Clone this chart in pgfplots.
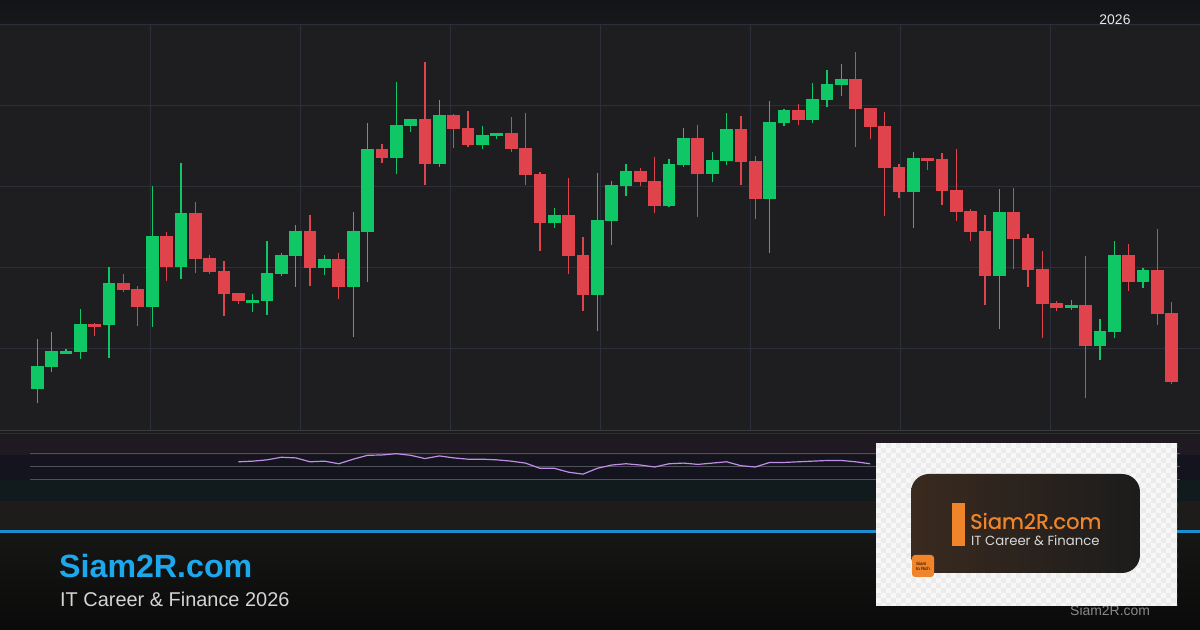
\documentclass[border=0pt]{standalone}
\usepackage{pgfplots}
\pgfplotsset{compat=1.18}
\usepackage{pgfplotstable}
\usepackage{fontspec}
\setmainfont{Liberation Sans}
\newfontfamily\logofont{Poppins}
\newfontfamily\logofontb{Poppins}[FakeBold=0.6]

\definecolor{cgreen}{HTML}{10C765}
\definecolor{cred}{HTML}{E0434C}
\definecolor{chartbg}{HTML}{1E1E20}
\definecolor{topbg}{HTML}{17181B}
\definecolor{topbgd}{HTML}{131417}
\definecolor{gridc}{HTML}{2A2F3A}
\definecolor{crsi}{HTML}{C28DE6}
\definecolor{cblue}{HTML}{1B8ED0}
\definecolor{ctitle}{HTML}{1CA8EC}
\definecolor{corange}{HTML}{F0842A}
\definecolor{pA}{HTML}{1B1B1E}
\definecolor{pB}{HTML}{3A3C42}
\definecolor{pC}{HTML}{2C2E33}
\definecolor{pD}{HTML}{1F1A21}
\definecolor{pE}{HTML}{13141D}
\definecolor{pF}{HTML}{111A1C}
\definecolor{pG}{HTML}{1D1C1A}
\definecolor{pLine}{HTML}{4E5159}
\definecolor{botT}{HTML}{161615}
\definecolor{botB}{HTML}{0A0A0A}
\definecolor{tYear}{HTML}{E8E8E8}
\definecolor{tSub}{HTML}{D4D4D4}
\definecolor{tGray}{HTML}{8A8A8A}
\definecolor{chkA}{HTML}{F7F7F7}
\definecolor{chkB}{HTML}{EBEBEB}
\definecolor{cardL}{HTML}{3A2A1F}
\definecolor{cardR}{HTML}{1C1C1C}
\definecolor{cardT}{HTML}{D8D8D8}

% up candles: index, open, high, low, close (price units)
\pgfplotstableread{
i open high low close
0 41 91 27 64
1 63 98 58 79
2 76 81 76 79
3 78 121 71 106
5 105 163 72 147
8 123 244 103 194
10 163 267 151 217
15 127 136 118 130
16 129 189 115 157
17 156 177 154 175
18 174 205 143 199
20 162 175 155 171
22 143 218 93 199
23 198 307 148 281
25 272 348 256 305
26 304 311 298 311
28 266 330 263 315
31 285 304 281 295
32 294 297 291 297
36 207 222 202 215
39 135 257 99 210
40 209 249 185 245
41 244 266 234 259
44 224 271 223 266
45 265 302 263 292
47 256 278 248 270
48 269 317 265 301
51 231 329 177 308
52 307 321 304 320
54 310 347 307 331
55 330 360 323 346
56 345 366 334 351
61 238 278 202 272
67 154 241 101 218
72 122 130 120 125
74 84 111 70 99
75 98 189 92 175
77 148 162 142 160
}\upc

% down candles
\pgfplotstableread{
i open high low close
4 106 107 94 103
6 147 156 138 140
7 141 144 104 123
9 194 198 149 163
11 217 228 157 171
12 172 175 156 158
13 159 169 114 136
14 137 137 126 129
19 199 215 144 162
21 171 177 131 143
24 281 286 267 272
27 311 368 245 266
29 315 316 282 301
30 302 319 283 285
33 297 313 278 281
34 282 317 245 255
35 256 258 179 207
37 215 252 156 174
38 175 193 119 135
42 259 262 244 248
43 249 273 217 224
46 292 305 213 256
49 301 314 245 268
50 269 274 211 231
53 320 326 305 310
57 351 378 283 321
58 322 322 291 303
59 304 318 214 262
60 263 266 232 238
62 272 272 260 269
63 271 277 225 239
64 240 281 209 218
65 219 221 189 198
66 199 215 125 154
68 218 242 161 191
69 192 196 143 160
70 161 179 92 126
71 127 129 119 122
73 125 174 32 84
76 175 186 139 148
78 160 201 105 116
79 117 128 46 48
}\downc

% RSI
\pgfplotstableread{
i rsi
14 58
15 59
16 61
17 65
18 64
19 58
20 59
21 55
22 62
23 68
24 68.5
25 70.5
26 68
27 63
28 67
29 64
30 62
31 62
32 61
33 59
34 56
35 48
36 48
37 42
38 39
39 48
40 53
41 55
42 53
43 50
44 55
45 56
46 54
47 56
48 58
49 52
50 50
51 57
52 57
53 58
54 59
55 60
56 60
57 58
58 55
}\rsitab

\begin{document}
\begin{tikzpicture}
% ---------- background (pixel coordinates) ----------
\begin{scope}[x=1bp,y=-1bp,yshift=630bp]
  \fill[chartbg] (0,0) rectangle (1200,630);
  \shade[top color=topbgd, bottom color=topbg] (0,0) rectangle (1200,25);
  % grid
  \foreach \yy in {25,106,187,268,349}{\draw[gridc, line width=1bp] (0,\yy) -- (1200,\yy);}
  \foreach \xx in {150,300,...,1050}{\draw[gridc, line width=1bp] (\xx,25) -- (\xx,430);}
  % indicator panel
  \fill[pA] (0,430) rectangle (1200,435);
  \draw[pB, line width=1bp] (0,430.5) -- (1200,430.5);
  \draw[pC, line width=1bp] (0,433.5) -- (1200,433.5);
  \fill[pD] (0,435) rectangle (1200,455);
  \fill[pE] (0,455) rectangle (1200,480);
  \fill[pF] (0,480) rectangle (1200,501);
  \fill[pG] (0,501) rectangle (1200,530);
  \foreach \yy in {454,467,480}{\draw[pLine, line width=1bp] (30,\yy) -- (1180,\yy);}
  \fill[cblue] (0,530) rectangle (1200,534);
  \shade[top color=botT, bottom color=botB] (0,534) rectangle (1200,630);
\end{scope}

% ---------- candles ----------
\begin{axis}[at={(0bp,200bp)}, anchor=south west, scale only axis,
  width=1200bp, height=405bp, xmin=-2.597, xmax=80.97, ymin=0, ymax=405,
  hide axis, clip=false]
  \addplot[draw=none, mark=none, forget plot, error bars/.cd, y dir=both, y explicit,
    error mark=none, error bar style={draw=cgreen, line width=1.3bp}]
    table[x=i, y expr={(\thisrow{high}+\thisrow{low})/2},
      y error expr={(\thisrow{high}-\thisrow{low})/2}] {\upc};
  \addplot[draw=none, mark=none, forget plot, error bars/.cd, y dir=both, y explicit,
    error mark=none, error bar style={draw=cred, line width=1.3bp}]
    table[x=i, y expr={(\thisrow{high}+\thisrow{low})/2},
      y error expr={(\thisrow{high}-\thisrow{low})/2}] {\downc};
  \addplot[draw=none, mark=none, forget plot, error bars/.cd, y dir=both, y explicit,
    error mark=none, error bar style={draw=cgreen, line width=12.7bp}]
    table[x=i, y expr={(\thisrow{open}+\thisrow{close})/2},
      y error expr={abs(\thisrow{close}-\thisrow{open})/2}] {\upc};
  \addplot[draw=none, mark=none, forget plot, error bars/.cd, y dir=both, y explicit,
    error mark=none, error bar style={draw=cred, line width=12.7bp}]
    table[x=i, y expr={(\thisrow{open}+\thisrow{close})/2},
      y error expr={abs(\thisrow{close}-\thisrow{open})/2}] {\downc};
\end{axis}

% ---------- RSI ----------
\begin{axis}[at={(0bp,150bp)}, anchor=south west, scale only axis,
  width=1200bp, height=26bp, xmin=-2.597, xmax=80.97, ymin=30, ymax=70,
  hide axis, clip=false]
  \addplot[crsi, line width=1.2bp, mark=none] table[x=i, y=rsi] {\rsitab};
\end{axis}

% ---------- texts and logo (pixel coordinates) ----------
\begin{scope}[x=1bp,y=-1bp,yshift=630bp]
  \node[anchor=base, text=tYear, font=\fontsize{14}{16}\selectfont, inner sep=0] at (1115,25) {2026};
  \node[anchor=base west, text=ctitle, font=\bfseries\fontsize{32.3}{35}\selectfont, inner sep=0] at (59,578) {Siam2R.com};
  \node[anchor=base west, text=tSub, font=\fontsize{20}{22}\selectfont, inner sep=0] at (60,607) {IT Career \& Finance 2026};
  \node[anchor=base west, text=tGray, font=\fontsize{14}{16}\selectfont, inner sep=0] at (1070,616) {Siam2R.com};
  % logo box with checkerboard
  \begin{scope}
    \clip (876,443) rectangle (1177,606);
    \fill[chkA] (876,443) rectangle (1177,606);
    \foreach \i in {0,...,60}{\foreach \j in {0,...,32}{%
      \pgfmathtruncatemacro\p{mod(\i+\j,2)}%
      \ifnum\p=0 \fill[chkB] ({876+5*\i},{443+5*\j}) rectangle ++(5,5);\fi}}
  \end{scope}
  \shade[rounded corners=18bp, left color=cardL, right color=cardR] (911,474) rectangle (1140,573);
  \fill[corange] (952,503) rectangle (965,546);
  \node[anchor=west, text=corange, font=\logofontb\fontsize{21.2}{23}\selectfont, inner sep=0] at (970,521) {Siam2R.com};
  \node[anchor=west, text=cardT, font=\logofont\fontsize{13.3}{15}\selectfont, inner sep=0] at (971,541) {IT Career \& Finance};
  \fill[corange, rounded corners=3bp] (912,555) rectangle (934,577);
  \node[align=left, text=black, font=\fontsize{4.5}{5}\selectfont, inner sep=0] at (923,566) {Siam\\to Rich};
\end{scope}
\pgfresetboundingbox
\path[use as bounding box] (0,0) rectangle (1200bp,630bp);
\end{tikzpicture}
\end{document}
